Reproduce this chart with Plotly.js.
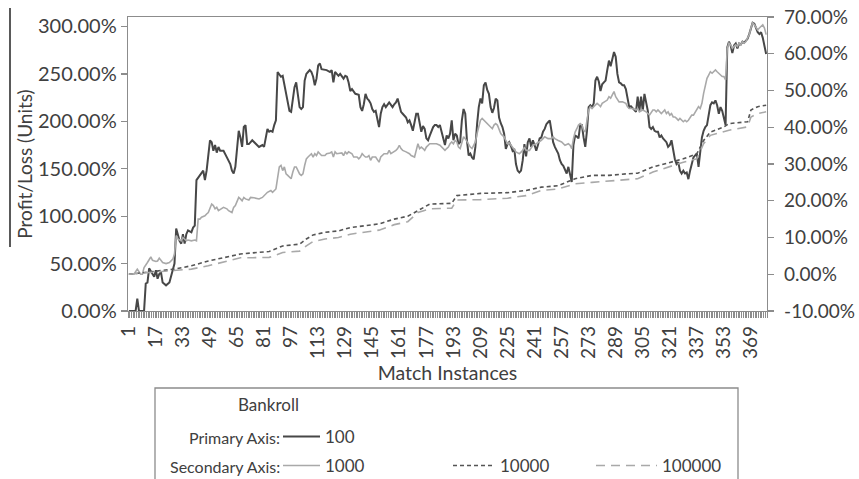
<!DOCTYPE html>
<html>
<head>
<meta charset="utf-8">
<script src="https://cdn.plot.ly/plotly-3.0.1.min.js"></script>
<style>
html,body{margin:0;padding:0;background:#fff;}
#chart{width:859px;height:479px;}
</style>
</head>
<body>
<div id="chart"></div>
<script>
// Bankroll 100 (primary axis, %): [match instance, profit/loss %]
const s100 = [
[1,0],[3,0],[5,0],[6,13],[7,0],[10,0],[11,29],[12,30],[13,45],[15,39],[16,36],[17,43],[18,34],[19,39],[20,41],[21,30],[23,27],[25,30],[27,43],[28,50],[29,87],[31,74],[32,71],[33,81],[34,71],[35,81],[36,85],[38,83],[39,88],[40,90],[41,138],[43,143],[44,145],[45,148],[46,138],[47,148],[49,180],[50,178],[51,169],[52,175],[53,167],[54,173],[55,169],[57,169],[59,162],[61,155],[62,148],[63,145],[64,152],[65,176],[66,190],[67,183],[68,173],[69,194],[70,196],[71,176],[72,176],[74,180],
[76,176],[78,173],[80,175],[81,173],[83,192],[84,189],[85,190],[86,189],[87,196],[88,201],[89,252],[91,247],[92,248],[93,238],[94,229],[95,220],[96,211],[97,210],[99,236],[100,241],[101,230],[102,215],[103,213],[104,215],[105,243],[106,250],[107,252],[108,254],[109,252],[110,247],[111,238],[112,245],[113,259],[114,261],[115,255],[117,254],[118,254],[120,252],[121,254],[122,241],[123,252],[124,250],[125,248],[126,250],[128,245],[129,248],[130,247],[131,241],[132,232],[133,234],[134,231],[135,229],[137,228],[138,215],[139,211],[140,218],[141,229],[142,224],[143,222],[144,219],[145,213],[146,210],[147,211],[149,194],[150,208],
[151,215],[152,218],[153,215],[155,220],[156,217],[157,215],[158,218],[159,220],[160,224],[161,217],[162,210],[163,208],[165,204],[166,199],[167,201],[168,196],[169,190],[170,199],[171,208],[172,208],[173,196],[174,189],[175,195],[176,192],[177,182],[178,180],[179,185],[180,190],[181,194],[182,196],[183,196],[184,194],[185,196],[186,189],[187,180],[188,175],[189,185],[190,182],[191,187],[192,201],[193,180],[194,187],[195,185],[196,176],[197,178],[198,201],[199,213],[200,208],[201,180],[202,164],[203,166],[204,162],[205,160],[206,173],[207,197],[208,215],[209,224],[210,219],[211,238],[212,241],[213,233],[214,229],[215,215],[216,209],[217,214],[218,224],[219,222],[220,204],[221,198],[222,194],[223,187],[224,171],[225,176],[226,178],
[227,174],[228,169],[229,171],[230,155],[231,148],[232,146],[233,148],[234,159],[235,176],[236,163],[237,178],[238,182],[239,173],[240,180],[241,175],[242,169],[243,175],[244,182],[245,183],[246,189],[247,192],[248,197],[249,199],[250,201],[251,190],[252,178],[253,173],[254,169],[255,166],[256,159],[257,155],[258,153],[259,148],[260,145],[261,152],[262,145],[263,136],[264,175],[265,185],[266,184],[267,182],[268,196],[269,196],[270,183],[271,173],[272,190],[273,215],[274,217],[275,215],[276,219],[277,243],[278,247],[279,242],[280,232],[281,239],[282,241],[283,243],[284,254],[285,264],[286,258],[287,266],[288,273],[289,268],[290,250],[291,241],[292,240],[293,238],[294,238],[295,234],[296,222],[297,215],[298,216],[299,214],[300,213],[301,210],[302,226],[303,211],[304,226],[305,211],[306,229],[307,219],[308,211],[309,194],[310,192],[311,194],[312,190],[313,189],[314,189],[315,183],[316,185],[317,182],[318,180],[319,178],[320,173],[321,175],[322,180],[323,169],[324,160],[325,155],[326,157],[327,148],[328,145],[329,148],[330,145],[331,146],[332,139],[333,148],[334,157],[335,162],[336,164],[337,166],[338,152],[339,171],[340,183],[341,190],[342,194],[343,196],[344,208],[345,217],[346,220],[347,219],[348,222],[349,217],[350,208],[351,215],[352,211],[353,204],[354,196],[355,278],[356,284],[357,280],[358,272],[359,280],[360,282],[361,277],[362,282],[363,281],[364,284],[365,283],[366,285],[367,287],[368,292],[369,299],[370,304],[371,303],[372,298],[373,294],[374,292],[375,294],[376,288],[377,280],[378,271]
];

// Bankroll 1000 (secondary axis, %)
const s1000 = [
[1,0],[4,0],[6,1.4],[8,0],[9,0],[10,1.8],[12,3.2],[14,4.7],[15,3.8],[17,3.5],[18,3.6],[19,4.4],[21,3.2],[23,2.9],[25,3.2],[27,4.1],[28,5.5],[29,10.5],[30,9.6],[32,9.1],[33,10],[35,9.1],[36,9.3],[38,9.1],[40,9.3],[41,9.1],[42,15],[43,15],[44,15.5],[46,15.9],[47,16.4],[48,16.8],[50,19.1],[51,18.7],[52,17.8],[53,18.2],[54,17.3],[56,17.8],[57,18.2],[59,17.8],[60,17.3],[62,16.8],[63,18.2],[64,18.7],[65,19.6],[66,20.9],[67,20.5],[68,20],[69,20.9],[70,20.5],[72,20.2],[73,20.9],[75,20.8],[78,20.5],[80,20.9],[82,21.9],[83,22.3],[85,22.8],[86,22.3],[88,23.2],[89,26.4],[90,29.2],[91,29.6],[92,28.2],[93,29.2],[94,27.3],[95,26.9],[97,26],[98,27.8],[99,29.2],[100,29.2],[101,28.2],[102,27.3],[103,26.9],[104,27.3],[105,29.6],[106,31.4],[107,31.9],[108,32.3],[109,32.8],[110,31.9],[111,32.8],[112,32.3],[113,33.3],[114,32.8],[115,32.3],[117,32.3],[118,32.8],[120,33],[121,33.3],[122,31.9],[123,33.3],[124,32.8],[126,32.8],[127,33],[128,32.3],[129,33.3],[130,32.8],[131,33.3],[133,32.8],[134,31.9],[136,31.9],[137,31.4],[138,31.9],[139,32.8],[140,32.3],[141,31.9],[142,31.9],[143,32.3],[144,31],[145,31.9],[147,31.9],[149,30.5],[150,31.9],
[152,32.8],[154,32.8],[155,33.7],[156,32.8],[158,33.3],[159,33.7],[160,34.2],[161,35.1],[162,34.2],[163,33.7],[165,33.3],[167,32.8],[168,32.3],[170,31.9],[171,33.7],[172,35.5],[173,34.2],[174,34.6],[175,34.2],[176,33.7],[177,34.6],[178,35.1],[179,35.5],[181,35.5],[183,35.5],[185,35.1],[186,34.6],[187,34.2],[188,33.7],[189,34.2],[190,34.6],[191,35.5],[192,36],[193,35.5],[194,36.4],[195,36],[196,34.6],[197,34.2],[198,36],[199,37.4],[200,36.9],[201,36],[202,35.1],[203,34.6],[204,34.2],[205,35.1],[206,36],[207,38.3],[208,40.1],[209,41.9],[210,42.4],[211,41.9],[212,41.5],[213,41],[214,40.6],[215,40.1],[216,39.6],[217,40.6],[218,41],[219,40.6],[220,39.6],[221,38.3],[222,37.8],[223,37.4],[224,36.4],[225,35.5],[226,35.8],
[228,34.6],[229,33.7],[230,33.3],[232,32.8],[233,33.3],[234,33.7],[235,34.6],[236,33.7],[238,33.7],[239,34.6],[240,35.1],[242,35.5],[244,36],[245,36.4],[246,36.9],[247,37.4],[249,36.9],[251,36.9],[252,37.4],[253,36.9],[255,36.4],[257,36],[259,35.1],[261,35.5],[262,35.1],[263,34.2],[264,36.9],[265,38.7],[266,39.6],[267,40.6],[268,41],[269,40.6],[270,39.2],[271,38.7],[272,41.9],[273,44.7],[274,45.6],[275,45.1],[276,45.6],[277,46.1],[278,46.5],[279,46.1],[280,45.6],[281,46.5],[283,47],[284,47.4],[285,48.3],[286,47.9],[287,48.8],[288,49.7],[289,48.3],[290,47.4],[291,46.9],[293,46.9],[295,46.5],[296,45.6],[297,45.1],[299,45.1],[301,44.7],[302,45.1],
[303,44.2],[305,44.7],[307,44.2],[309,43.3],[310,44.2],[311,44.7],[312,44.7],[313,44.2],[314,44.7],[315,44.2],[316,43.7],[317,44.2],[318,44.7],[319,43.7],[320,44.2],[321,43.3],[322,43.7],[323,42.8],[324,42.8],[325,42.4],[326,41.9],[327,42.4],[328,41.9],[329,41.5],[330,41.9],[331,41.5],[332,41.9],[333,42.8],[334,43.3],[335,43.3],[336,44.2],[337,44.7],[338,45.6],[339,45.1],[340,46.5],[341,49.2],[342,51.5],[343,53.3],[344,54.2],[345,55.1],[346,54.7],[347,55.1],[348,55.6],[349,55.1],[350,54.7],[351,54.2],[352,53.8],[353,53.8],[354,52.9],[355,61.5],[356,62.9],[357,62.4],[358,61.5],[359,62],[360,62.4],[361,62],[362,62.9],[363,62.4],[364,63.3],[365,62.9],[366,63.3],[367,64.3],[368,65.2],[369,67],[370,68.4],[371,67.9],[372,67],[373,66.5],[374,67],[375,67.5],[376,67.9],[377,67],[378,65.2]
];

// Bankroll 10000 (secondary axis, %)
const s10000 = [
[1,0],[28,1.4],[38,2.3],[48,3.6],[57,4.5],[67,5.5],[74,5.8],[84,6.2],[92,7.7],[102,8.2],[106,9.6],[110,10.7],[117,11.4],[125,11.8],[132,12.7],[141,13.2],[149,13.7],[158,15],[166,15.8],[172,17.3],[179,19.1],[192,19.3],[195,21.4],[209,22],[225,22.2],[236,22.8],[245,23.7],[255,24.1],[265,26],[275,26.9],[285,26.9],[295,27.3],[302,27.5],[311,29.2],[321,30.5],[329,31.4],[337,32.8],[341,36.4],[345,38.7],[353,40.1],[356,41],[367,41.5],[369,44.7],[373,45.6],[378,46]
];

// Bankroll 100000 (secondary axis, %)
const s100000 = [
[1,0],[28,0.9],[38,1.4],[48,2.3],[57,3.4],[67,4.5],[74,4.5],[84,4.6],[92,5.9],[102,6.3],[106,7.7],[110,8.9],[117,9.6],[125,10],[132,10.9],[141,11.4],[149,12],[158,13.5],[166,14.3],[172,16.8],[179,17.8],[192,18],[195,20.2],[209,20.3],[225,20.7],[236,21.4],[245,22.8],[255,23.2],[265,24.6],[275,25],[285,25.3],[295,25.7],[302,26],[311,27.8],[321,29.2],[329,30.5],[337,31.4],[341,35.5],[345,37.8],[353,38.7],[356,39.2],[367,40.1],[369,42.8],[373,43.7],[378,44.2]
];

// x tick labels (match instances)
const xTicks = [1,17,33,49,65,81,97,113,129,145,161,177,193,209,225,241,257,273,289,305,321,337,353,369];
const leftTicks = [0,50,100,150,200,250,300];
const rightTicks = [-10,0,10,20,30,40,50,60,70];
const seriesNames = ['100','1000','10000','100000'];

const FONT = 'Lato, "Open Sans", sans-serif';
const TXT = '#404040';
const AX = '#8c8c8c';
const TICKSIZE = 20;
const LEGSIZE = 16;

const xs = a => a.map(p => p[0]);
const ys = a => a.map(p => p[1]);

const traces = [
  {x: xs(s100), y: ys(s100), name: seriesNames[0], type: 'scatter', mode: 'lines', yaxis: 'y', legend: 'legend',
   line: {color: '#474747', width: 2}},
  {x: xs(s1000), y: ys(s1000), name: seriesNames[1], type: 'scatter', mode: 'lines', yaxis: 'y2', legend: 'legend2',
   line: {color: '#a9a9a9', width: 1.6}},
  {x: xs(s10000), y: ys(s10000), name: seriesNames[2], type: 'scatter', mode: 'lines', yaxis: 'y2', legend: 'legend3',
   line: {color: '#555555', width: 1.6, dash: '4px,3px'}},
  {x: xs(s100000), y: ys(s100000), name: seriesNames[3], type: 'scatter', mode: 'lines', yaxis: 'y2', legend: 'legend4',
   line: {color: '#a9a9a9', width: 1.6, dash: '9px,6px'}}
];

// plot area in px: left 128, right 767, top 17, bottom 311
const L = 128, R = 767, T = 17, B = 311;
const px = v => (v - L) / (R - L);
const py = v => (B - v) / (B - T);

function leg(xpx, ypx, w) {
  return {
    x: px(xpx), y: py(ypx), xanchor: 'left', yanchor: 'middle',
    orientation: 'h', bgcolor: 'rgba(0,0,0,0)', borderwidth: 0,
    font: {family: FONT, size: 17, color: TXT}, itemwidth: w
  };
}

const layout = {
  width: 859, height: 479,
  margin: {l: L, r: 859 - R, t: T, b: 479 - B, autoexpand: false},
  paper_bgcolor: '#fff', plot_bgcolor: '#fff',
  font: {family: FONT, size: TICKSIZE, color: TXT},
  showlegend: true,
  xaxis: {
    automargin: false,
    range: [0.5, 378.5], tickmode: 'array', tickvals: xTicks, ticktext: xTicks.map(String),
    tickangle: -90, ticks: '', ticklabelstandoff: 6,
    showline: true, mirror: true, linecolor: AX, linewidth: 1.3,
    showgrid: false, zeroline: false,
    tickfont: {family: FONT, size: 19, color: TXT},
    minor: {tickmode: 'linear', tick0: 0.5, dtick: 1, ticks: 'outside', ticklen: 6, tickcolor: AX, tickwidth: 1, showgrid: false},
    title: {text: 'Match Instances', font: {family: FONT, size: 19.5, color: TXT}, standoff: 8}
  },
  yaxis: {
    automargin: false,
    range: [0, 310], tickmode: 'array', tickvals: leftTicks,
    ticktext: leftTicks.map(v => v.toFixed(2) + '%'),
    ticks: 'outside', ticklen: 6, tickcolor: AX, tickwidth: 1.3, ticklabelstandoff: 0,
    showline: true, linecolor: AX, linewidth: 1.3,
    showgrid: false, zeroline: false,
    tickfont: {family: FONT, size: TICKSIZE, color: TXT},
    title: {text: 'Profit/Loss (Units)', font: {family: FONT, size: 19, color: TXT}, standoff: 0}
  },
  yaxis2: {
    automargin: false,
    overlaying: 'y', side: 'right',
    range: [-10, 70], tickmode: 'array', tickvals: rightTicks,
    ticktext: rightTicks.map(v => v.toFixed(2) + '%'),
    ticks: 'outside', ticklen: 6, tickcolor: AX, tickwidth: 1.3, ticklabelstandoff: 6,
    showline: true, linecolor: AX, linewidth: 1.3,
    showgrid: false, zeroline: false,
    tickfont: {family: FONT, size: 19, color: TXT}
  },
  legend: leg(278, 437, 37),
  legend2: leg(278, 466, 37),
  legend3: leg(448, 466, 42),
  legend4: leg(591, 466, 61),
  shapes: [
    {type: 'rect', xref: 'paper', yref: 'paper', x0: px(155), x1: px(738), y0: py(500), y1: py(388),
     line: {color: AX, width: 1.3}, fillcolor: 'rgba(0,0,0,0)', layer: 'below'},
    {type: 'line', xref: 'paper', yref: 'paper', x0: px(10), x1: px(10), y0: py(247), y1: py(8),
     line: {color: '#000', width: 1.3}}
  ],
  annotations: [
    {text: 'Bankroll', xref: 'paper', yref: 'paper', x: px(268), y: py(404), xanchor: 'center', yanchor: 'middle', showarrow: false,
     font: {family: FONT, size: 17, color: TXT}},
    {text: 'Primary Axis:', xref: 'paper', yref: 'paper', x: px(282), y: py(437), xanchor: 'right', yanchor: 'middle', showarrow: false,
     font: {family: FONT, size: LEGSIZE, color: TXT}},
    {text: 'Secondary Axis:', xref: 'paper', yref: 'paper', x: px(282), y: py(466), xanchor: 'right', yanchor: 'middle', showarrow: false,
     font: {family: FONT, size: LEGSIZE, color: TXT}}
  ]
};

Plotly.newPlot('chart', traces, layout, {displayModeBar: false, staticPlot: true});
</script>
</body>
</html>
